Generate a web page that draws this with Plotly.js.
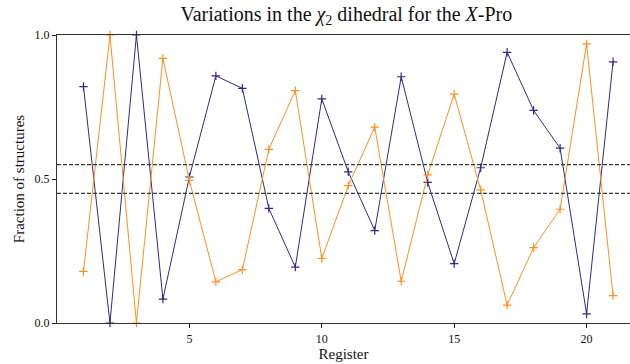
<!DOCTYPE html>
<html>
<head>
<meta charset="utf-8">
<script src="https://cdn.plot.ly/plotly-3.0.1.min.js"></script>
<style>html,body{margin:0;padding:0;background:#fff}#chart{width:630px;height:364px}</style>
</head>
<body>
<div id="chart"></div>
<script>
const registers = [1,2,3,4,5,6,7,8,9,10,11,12,13,14,15,16,17,18,19,20,21];
const seriesA = [0.821,0.0,1.0,0.083,0.507,0.858,0.815,0.398,0.194,0.778,0.525,0.321,0.855,0.488,0.206,0.539,0.940,0.738,0.607,0.032,0.907];
const seriesB = [0.179,1.0,0.0,0.919,0.495,0.143,0.185,0.603,0.807,0.224,0.477,0.680,0.145,0.514,0.795,0.462,0.062,0.262,0.395,0.969,0.095];
const thresholds = [0.55, 0.45];
const xTicks = [5,10,15,20];
const yTicks = [0, 0.5, 1.0];
const yTickLabels = ['0.0','0.5','1.0'];

const font = '"Liberation Serif", "Times New Roman", serif';
function trace(y, color){
  return {x: registers, y: y, mode: 'lines+markers', type: 'scatter',
    line: {color: color, width: 1},
    marker: {symbol: 'cross-thin', size: 6, color: color, line: {color: color, width: 1.2}},
    hoverinfo: 'skip', cliponaxis: false};
}
const data = [trace(seriesA, '#2d2b88'), trace(seriesB, '#ff8f1f')];
const shapes = thresholds.map(t => ({type:'line', xref:'paper', yref:'y', x0:0, x1:1, y0:t, y1:t,
  line:{color:'#3a3a3a', width:1.1, dash:'4px,2px'}}));
const layout = {
  width: 630, height: 364,
  margin: {l: 57, r: 0, t: 35, b: 41},
  paper_bgcolor: '#fff', plot_bgcolor: '#fff',
  showlegend: false,
  font: {family: font, color: '#111', size: 12},
  title: {text: 'Variations in the <i>χ</i><sub>2</sub> dihedral for the <i>X</i>-Pro',
    font: {family: font, size: 20, color: '#111'}, xref: 'paper', x: 0.505, xanchor: 'center', y: 0.982, yanchor: 'top'},
  xaxis: {range: [0, 21.64], tickvals: xTicks, ticks: 'outside', ticklen: 4, tickcolor: '#222',
    showline: true, mirror: true, linecolor: '#333', linewidth: 1.2, showgrid: false, zeroline: false,
    tickfont: {family: font, size: 12, color: '#111'},
    title: {text: 'Register', font: {family: font, size: 15, color: '#111'}, standoff: 3}},
  yaxis: {range: [0, 1], tickvals: yTicks, ticktext: yTickLabels, ticks: 'outside', ticklen: 4, tickcolor: '#222',
    showline: true, linecolor: '#333', linewidth: 1.2, showgrid: false, zeroline: false,
    tickfont: {family: font, size: 12, color: '#111'},
    title: {text: 'Fraction of structures', font: {family: font, size: 15, color: '#111'}, standoff: 6}},
  shapes: shapes
};
Plotly.newPlot('chart', data, layout, {displayModeBar: false, staticPlot: true});
</script>
</body>
</html>
